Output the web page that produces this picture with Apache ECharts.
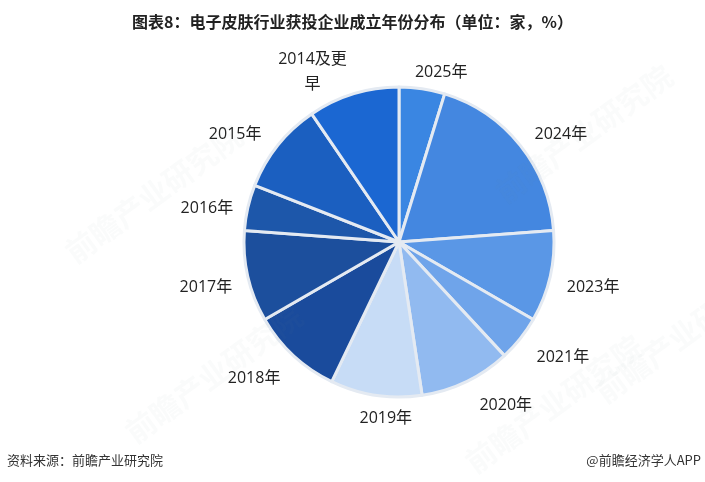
<!DOCTYPE html>
<html>
<head>
<meta charset="utf-8">
<script src="https://cdn.jsdelivr.net/npm/echarts@6/dist/echarts.min.js"></script>
<style>
  html, body { margin: 0; padding: 0; background: #fff; }
  #chart { width: 705px; height: 482px; }
</style>
</head>
<body>
<div id="chart"></div>
<script>
// 成立年份 & 企业数量（家）
var years = ['2025年', '2024年', '2023年', '2021年', '2020年', '2019年', '2018年', '2017年', '2016年', '2015年', '2014及更\n早'];
var counts = [1, 4, 2, 1, 2, 2, 2, 2, 1, 2, 2];
var colors = ['#3a86e2', '#4487e0', '#5a97e6', '#6fa4ea', '#91baf0', '#c7dcf6', '#1a4b9c', '#1c4f9d', '#1d57aa', '#1b5fc0', '#1b67d2'];

var pieData = years.map(function (y, i) {
    return { name: y, value: counts[i], itemStyle: { color: colors[i] } };
});

// 标签微调（像素）
var labelShift = [[-14, -4], [0, -3], [0, 8], [2, 11], [3, 13], [43, 11], [0, 14], [1, 8], [2, 4], [-2, -3], [2, -10]];

var cjk = '"Noto Sans CJK SC", "Noto Sans", sans-serif';

// 水印
function mark(x, y) {
    return {
        type: 'text', left: x, top: y, rotation: Math.PI / 5, z: 100,
        style: { text: '前瞻产业研究院', fill: 'rgba(120,130,140,0.035)', font: 'bold 30px ' + cjk }
    };
}

var option = {
    backgroundColor: '#fff',
    title: {
        text: '图表8：电子皮肤行业获投企业成立年份分布（单位：家，%）',
        left: 'center',
        top: 9,
        textStyle: { fontSize: 16, fontWeight: 'bold', color: '#222', fontFamily: cjk }
    },
    graphic: [
        mark(60, 120),
        mark(490, 60),
        mark(120, 300),
        mark(460, 330),
        mark(590, 260),
        {
            type: 'text', left: 7, top: 454,
            style: { text: '资料来源：前瞻产业研究院', fill: '#333', font: '13px ' + cjk }
        },
        {
            type: 'text', right: 4, top: 454,
            style: { text: '@前瞻经济学人APP', fill: '#333', font: '13px ' + cjk }
        }
    ],
    series: [
        {
            type: 'pie',
            center: [399, 242],
            radius: [0, 155],
            startAngle: 90,
            clockwise: true,
            data: pieData,
            itemStyle: { borderColor: '#e4eaf2', borderWidth: 3 },
            label: {
                show: true,
                position: 'outside',
                color: '#222',
                fontSize: 16,
                lineHeight: 25,
                fontFamily: '"Open Sans", "Noto Sans CJK SC", sans-serif'
            },
            labelLine: { show: false, length: 12, length2: 0 },
            labelLayout: function (params) {
                var r = params.labelRect;
                var s = labelShift[params.dataIndex];
                return {
                    x: r.x + r.width / 2 + s[0],
                    y: r.y + r.height / 2 + s[1],
                    align: 'center',
                    verticalAlign: 'middle'
                };
            },
            emphasis: { disabled: true }
        }
    ],
    animation: false
};

var myChart = echarts.init(document.getElementById('chart'));
myChart.setOption(option);
</script>
</body>
</html>
